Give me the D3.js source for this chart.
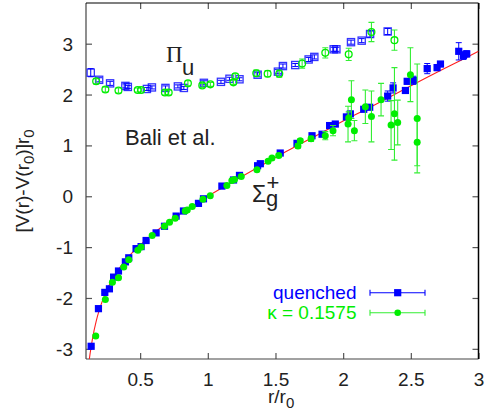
<!DOCTYPE html>
<html><head><meta charset="utf-8">
<script src="https://cdn.jsdelivr.net/npm/d3@7"></script>
<style>
html,body{margin:0;padding:0;background:#fff;}
svg{display:block;font-family:"Liberation Sans",Arial,sans-serif;}
</style></head>
<body><svg id="c" width="486" height="412"></svg>
<script>
// ---- data ----
// Pi_u, quenched (open squares): r/r0, value, error
const piQuenchedR = [0.135,0.197,0.278,0.391,0.409,0.550,0.587,0.687,0.779,0.823,0.971,1.097,1.160,1.234,1.368,1.518,1.555,1.646,1.745,1.787,1.930,1.950,2.058,2.137,2.199,2.329];
const piQuenchedV = [2.43,2.29,2.22,2.17,2.15,2.11,2.14,2.13,2.16,2.13,2.23,2.25,2.31,2.30,2.39,2.45,2.56,2.58,2.69,2.74,2.89,2.89,3.03,3.06,3.19,3.24];
const piQuenchedE = [0.08,0.04,0.04,0.04,0.03,0.03,0.03,0.04,0.03,0.03,0.04,0.03,0.03,0.03,0.04,0.04,0.04,0.03,0.04,0.04,0.04,0.04,0.04,0.04,0.06,0.06];
// Pi_u, kappa = 0.1575 (open circles)
const piKappaR = [0.175,0.243,0.340,0.482,0.507,0.683,0.711,0.853,0.959,1.019,1.189,1.203,1.358,1.442,1.528,1.697,1.868,2.041,2.209,2.379];
const piKappaV = [2.26,2.10,2.08,2.09,2.09,2.04,2.04,2.22,2.18,2.20,2.24,2.36,2.42,2.41,2.41,2.61,2.82,2.79,3.23,3.07];
const piKappaE = [0.05,0.05,0.05,0.04,0.04,0.05,0.05,0.05,0.04,0.04,0.04,0.05,0.06,0.06,0.07,0.09,0.10,0.12,0.19,0.20];
// Sigma_g^+, quenched (filled squares)
const sigQuenchedR = [0.138,0.192,0.239,0.273,0.304,0.340,0.391,0.416,0.470,0.507,0.544,0.618,0.680,0.766,0.820,0.931,0.968,1.104,1.190,1.234,1.368,1.388,1.535,1.659,1.770,1.844,1.900,1.942,2.024,2.053,2.152,2.196,2.329,2.369,2.460,2.473,2.519,2.621,2.694,2.719,2.854,2.889,2.913];
const sigQuenchedV = [-2.95,-2.21,-1.89,-1.82,-1.59,-1.47,-1.29,-1.21,-1.03,-0.99,-0.87,-0.72,-0.59,-0.39,-0.29,-0.14,-0.05,0.20,0.32,0.41,0.60,0.64,0.85,1.04,1.19,1.22,1.39,1.42,1.56,1.62,1.71,1.75,1.97,2.13,2.08,2.26,2.28,2.51,2.53,2.60,2.85,2.77,2.80];
const sigQuenchedE = [0.02,0.02,0.02,0.02,0.02,0.02,0.02,0.02,0.02,0.02,0.02,0.02,0.02,0.02,0.02,0.02,0.02,0.02,0.02,0.02,0.02,0.02,0.02,0.02,0.02,0.02,0.03,0.03,0.03,0.03,0.03,0.03,0.10,0.10,0.04,0.05,0.08,0.10,0.06,0.05,0.17,0.08,0.06];
// Sigma_g^+, kappa = 0.1575 (filled circles)
const sigKappaR = [0.172,0.243,0.295,0.340,0.379,0.416,0.483,0.507,0.589,0.680,0.717,0.759,0.833,0.848,0.885,0.964,1.018,1.141,1.178,1.197,1.247,1.363,1.445,1.474,1.524,1.666,1.683,1.763,1.868,1.925,2.036,2.041,2.061,2.083,2.164,2.209,2.280,2.354,2.379,2.403,2.497,2.547,2.547];
const sigKappaV = [-2.75,-2.03,-1.69,-1.60,-1.39,-1.25,-1.06,-1.00,-0.77,-0.59,-0.51,-0.43,-0.29,-0.27,-0.20,-0.06,0.01,0.21,0.31,0.33,0.39,0.52,0.69,0.75,0.80,0.99,1.09,1.13,1.19,1.29,1.42,1.54,1.90,1.29,1.76,1.57,1.90,1.40,1.62,1.45,2.39,1.53,1.06];
const sigKappaE = [0.02,0.02,0.02,0.02,0.02,0.02,0.02,0.02,0.02,0.02,0.02,0.02,0.02,0.02,0.02,0.02,0.02,0.02,0.02,0.02,0.02,0.03,0.03,0.03,0.03,0.04,0.04,0.05,0.08,0.10,0.35,0.12,0.37,0.20,0.33,0.50,0.32,0.48,0.91,0.44,0.53,1.07,0.46];
const fitR = [0.115,0.12,0.13,0.14,0.15,0.175,0.2,0.25,0.3,0.35,0.4,0.5,0.6,0.7,0.8,0.9,1.0,1.2,1.4,1.6,1.8,2.0,2.2,2.4,2.6,2.8,3.0];
const fitV = [-3.41,-3.30,-3.10,-2.93,-2.77,-2.46,-2.22,-1.87,-1.61,-1.40,-1.23,-0.96,-0.73,-0.52,-0.34,-0.17,0,0.31,0.61,0.91,1.19,1.48,1.75,2.03,2.31,2.58,2.85];
// axis ticks
const xTicks = [0.5,1,1.5,2,2.5,3];
const yTicks = [-3,-2,-1,0,1,2,3];
const legendLabels = ["quenched","\u03ba = 0.1575"];

// ---- drawing ----
const L=86,R=478.5,T=3,B=359;
const BLUE="#0000ff", GREEN="#00ee00", GREENBAR="#33ee33";
const svg=d3.select("#c");
const x=d3.scaleLinear().domain([0.1,3]).range([L,R]);
const y=d3.scaleLinear().domain([-3.2,3.8]).range([B,T]);

svg.append("defs").append("clipPath").attr("id","clip")
  .append("rect").attr("x",L).attr("y",T).attr("width",R-L).attr("height",B-T);

// axes with inward ticks
const tickCol="#555";
const gxB=svg.append("g").attr("transform",`translate(0,${B})`)
  .call(d3.axisBottom(x).tickValues(xTicks).tickSizeInner(-6).tickSizeOuter(0).tickPadding(14).tickFormat(d=>String(d)));
const gxT=svg.append("g").attr("transform",`translate(0,${T})`)
  .call(d3.axisTop(x).tickValues(xTicks).tickSizeInner(-6).tickSizeOuter(0).tickFormat(""));
const gyL=svg.append("g").attr("transform",`translate(${L},0)`)
  .call(d3.axisLeft(y).tickValues(yTicks).tickSizeInner(-6).tickSizeOuter(0).tickPadding(13).tickFormat(d=>String(d)));
const gyR=svg.append("g").attr("transform",`translate(${R},0)`)
  .call(d3.axisRight(y).tickValues(yTicks).tickSizeInner(-6).tickSizeOuter(0).tickFormat(""));
[gxB,gxT,gyL,gyR].forEach(g=>{
  g.select(".domain").remove();
  g.selectAll(".tick line").attr("stroke",tickCol).attr("stroke-width",1.2);
  g.selectAll(".tick text").attr("fill","#222").attr("font-size",19).attr("font-family","Liberation Sans, Arial, sans-serif");
});
gxB.selectAll(".tick text").attr("dy","0.71em");
gyL.selectAll(".tick text").attr("dy","0.34em");
// frame
svg.append("line").attr("x1",L).attr("x2",L).attr("y1",T).attr("y2",B).attr("stroke","#444").attr("stroke-width",1.2);
svg.append("line").attr("x1",L).attr("x2",R).attr("y1",B).attr("y2",B).attr("stroke","#444").attr("stroke-width",1.2);
svg.append("line").attr("x1",L).attr("x2",R).attr("y1",T).attr("y2",T).attr("stroke","#000").attr("stroke-width",1.2);
svg.append("line").attr("x1",R).attr("x2",R).attr("y1",T).attr("y2",B).attr("stroke","#000").attr("stroke-width",1.5);

const plot=svg.append("g").attr("clip-path","url(#clip)");

// fit curve
const fitPts=fitR.map((r,i)=>[r,fitV[i]]);
plot.append("path").datum(fitPts)
  .attr("d",d3.line().x(d=>x(d[0])).y(d=>y(d[1])).curve(d3.curveMonotoneX))
  .attr("fill","none").attr("stroke","#ff2020").attr("stroke-width",1.1);

function series(R,V,E){return R.map((r,i)=>({r:r,v:V[i],e:E[i]}));}
function errorBars(g,data,col,w){
  const cap=3;
  data.forEach(d=>{
    const y1=y(d.v-d.e),y2=y(d.v+d.e),cx=x(d.r);
    g.append("line").attr("x1",cx).attr("x2",cx).attr("y1",y1).attr("y2",y2).attr("stroke",col).attr("stroke-width",w);
    g.append("line").attr("x1",cx-cap).attr("x2",cx+cap).attr("y1",y1).attr("y2",y1).attr("stroke",col).attr("stroke-width",w);
    g.append("line").attr("x1",cx-cap).attr("x2",cx+cap).attr("y1",y2).attr("y2",y2).attr("stroke",col).attr("stroke-width",w);
  });
}

const piQ=series(piQuenchedR,piQuenchedV,piQuenchedE);
const piK=series(piKappaR,piKappaV,piKappaE);
const sgQ=series(sigQuenchedR,sigQuenchedV,sigQuenchedE);
const sgK=series(sigKappaR,sigKappaV,sigKappaE);

// Pi_u quenched: open squares
const gpq=plot.append("g");
errorBars(gpq,piQ,BLUE,1);
gpq.selectAll("rect").data(piQ).join("rect")
  .attr("x",d=>x(d.r)-3.6).attr("y",d=>y(d.v)-3.6).attr("width",7.2).attr("height",7.2)
  .attr("fill","none").attr("stroke",BLUE).attr("stroke-width",1.3).attr("stroke-opacity",0.8);
// Pi_u kappa: open circles
const gpk=plot.append("g");
errorBars(gpk,piK,GREENBAR,1.1);
gpk.selectAll("circle").data(piK).join("circle")
  .attr("cx",d=>x(d.r)).attr("cy",d=>y(d.v)).attr("r",3.4)
  .attr("fill","none").attr("stroke",GREEN).attr("stroke-width",1.3);
// Sigma quenched: filled squares
const gsq=plot.append("g");
errorBars(gsq,sgQ,BLUE,1);
gsq.selectAll("rect").data(sgQ).join("rect")
  .attr("x",d=>x(d.r)-3.6).attr("y",d=>y(d.v)-3.6).attr("width",7.2).attr("height",7.2)
  .attr("fill",BLUE);
// Sigma kappa: filled circles
const gsk=plot.append("g");
errorBars(gsk,sgK,GREENBAR,1.1);
gsk.selectAll("circle").data(sgK).join("circle")
  .attr("cx",d=>x(d.r)).attr("cy",d=>y(d.v)).attr("r",3.5)
  .attr("fill",GREEN);

// legend
const lg=svg.append("g");
const legY=[292.7,312.7], legCols=[BLUE,GREEN];
legY.forEach((ly,i)=>{
  const col=legCols[i];
  lg.append("text").attr("x",356.5).attr("y",ly+6.5).attr("text-anchor","end")
    .attr("font-size",19).attr("fill",col).text(legendLabels[i]);
  const bcol=i===0?BLUE:GREENBAR;
  lg.append("line").attr("x1",370).attr("x2",425).attr("y1",ly).attr("y2",ly).attr("stroke",bcol).attr("stroke-width",1.1);
  lg.append("line").attr("x1",370).attr("x2",370).attr("y1",ly-3).attr("y2",ly+3).attr("stroke",bcol).attr("stroke-width",1.1);
  lg.append("line").attr("x1",425).attr("x2",425).attr("y1",ly-3).attr("y2",ly+3).attr("stroke",bcol).attr("stroke-width",1.1);
  if(i===0) lg.append("rect").attr("x",397.7-3.6).attr("y",ly-3.6).attr("width",7.2).attr("height",7.2).attr("fill",BLUE);
  else lg.append("circle").attr("cx",397.7).attr("cy",ly).attr("r",3.3).attr("fill",GREEN);
});

// annotations
const txt="#222";
svg.append("text").attr("x",166).attr("y",61.7).attr("font-family","Liberation Serif, Times New Roman, serif")
  .attr("font-size",23).attr("fill",txt).text("\u03a0");
svg.append("text").attr("x",182).attr("y",75).attr("font-size",22).attr("fill",txt).text("u");
svg.append("text").attr("x",125).attr("y",145).attr("font-size",22).attr("fill",txt).text("Bali et al.");
const sg=svg.append("text").attr("x",252).attr("y",201.7).attr("font-size",23).attr("fill",txt);
sg.append("tspan").text("\u03a3");
sg.append("tspan").attr("x",266).attr("y",206).attr("font-size",22).text("g");
sg.append("tspan").attr("x",266.5).attr("y",189.5).attr("font-size",22).text("+");

// axis titles
const xl=svg.append("text").attr("x",268).attr("y",403).attr("font-size",19).attr("fill",txt);
xl.append("tspan").text("r/r");
xl.append("tspan").attr("font-size",15).attr("dy",5).text("0");
const yl=svg.append("text").attr("transform","translate(29,181) rotate(-90)").attr("text-anchor","middle").attr("font-size",19).attr("fill",txt);
yl.append("tspan").text("[V(r)-V(r");
yl.append("tspan").attr("font-size",15).attr("dy",5).text("0");
yl.append("tspan").attr("dy",-5).text(")]r");
yl.append("tspan").attr("font-size",15).attr("dy",5).text("0");
</script></body></html>
